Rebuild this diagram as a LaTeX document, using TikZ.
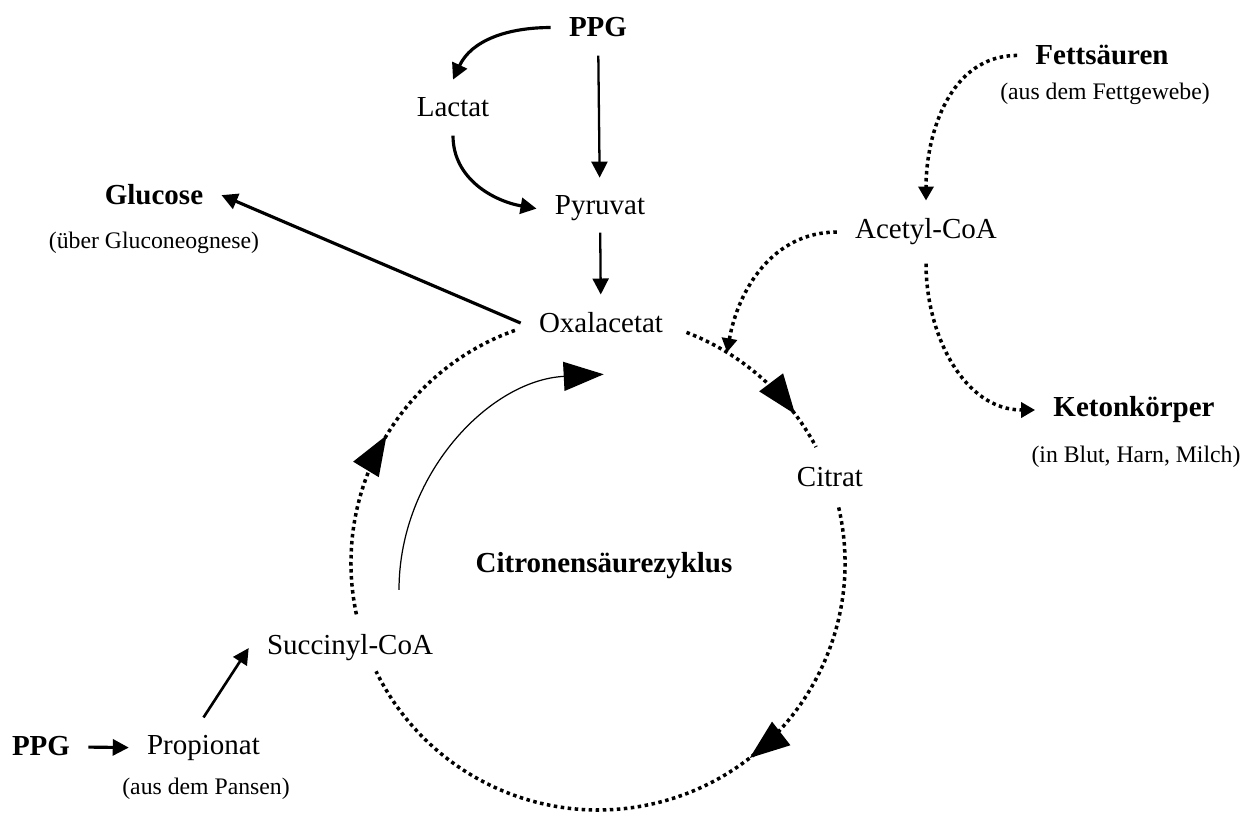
\documentclass[tikz,border=0pt]{standalone}
\usepackage{fontspec}
\setmainfont{Liberation Serif}
\usetikzlibrary{arrows.meta,decorations.markings}
\tikzset{
  metab/.style={anchor=base, inner sep=0.36cm, font=\fontsize{16.5}{20}\selectfont},
  source/.style={metab, font=\fontsize{16.5}{20}\selectfont\bfseries},
  note/.style={anchor=base, inner sep=2pt, font=\fontsize{13.5}{16}\selectfont},
  arrow/.style={-{Triangle[length=0.32cm, width=0.32cm]}, line width=1.3pt},
  bentarrow/.style={arrow, line width=1.8pt},
  dotarrow/.style={-{Triangle[length=0.28cm, width=0.3cm]}, line width=2pt, dash pattern=on 2pt off 2pt},
  thinarrow/.style={-{Triangle[length=0.8cm, width=0.58cm]}, line width=0.7pt},
  cyclearc/.style={line width=2pt, dash pattern=on 2pt off 2pt, postaction={decorate},
    decoration={markings, mark=at position #1 with {\arrow{Triangle[length=0.8cm, width=0.58cm]}}}}
}
\begin{document}
\begin{tikzpicture}
  \useasboundingbox (0,0) rectangle (25.08,16.32);

  \node[source] (ppgtop) at (11.96,15.58) {PPG};
  \node[metab] (lactat) at (9.06,13.98) {Lactat};
  \node[metab] (pyruvat) at (12.00,12.02) {Pyruvat};
  \node[metab] (oxal) at (12.02,9.66) {Oxalacetat};
  \node[source] (glucose) at (3.08,12.22) {Glucose};
  \node[note] (glucosenote) at (3.08,11.34) {(über Gluconeognese)};
  \node[source] (fett) at (22.04,15.02) {Fettsäuren};
  \node[note] (fettnote) at (22.10,14.32) {(aus dem Fettgewebe)};
  \node[metab] (acetyl) at (18.52,11.54) {Acetyl-CoA};
  \node[source] (keton) at (22.68,7.98) {Ketonkörper};
  \node[note] (ketonnote) at (22.72,7.06) {(in Blut, Harn, Milch)};
  \node[metab] (citrat) at (16.60,6.58) {Citrat};
  \node[source] (zyklus) at (12.08,4.86) {Citronensäurezyklus};
  \node[metab] (succ) at (7.00,3.22) {Succinyl-CoA};
  \node[source] (ppgbot) at (0.82,1.20) {PPG};
  \node[metab] (prop) at (4.07,1.22) {Propionat};
  \node[note] (propnote) at (4.12,0.42) {(aus dem Pansen)};

  % citric acid cycle
  \coordinate (cyc) at (11.96,5.06);
  \coordinate (acin) at ([shift={(58.5:4.94)}]cyc);
  \coordinate (shortcut) at (7.98,4.52);
  \draw[cyclearc=0.78] ([shift={(69:4.94)}]cyc) arc[start angle=69, end angle=28, radius=4.94];
  \draw[cyclearc=0.39] ([shift={(13:4.94)}]cyc) arc[start angle=13, end angle=-154, radius=4.94];
  \draw[cyclearc=0.52] ([shift={(192:4.94)}]cyc) arc[start angle=192, end angle=109, radius=4.94];
  \draw[thinarrow] (shortcut) arc[start angle=180, end angle=93, radius=4.32];

  \draw[bentarrow] (ppgtop.west) to[out=180, in=65] (lactat.north);
  \draw[arrow] (ppgtop) -- (pyruvat);
  \draw[bentarrow] (lactat.south) to[out=-90, in=170] (pyruvat.west);
  \draw[arrow, shorten <=-0.14cm] (pyruvat) -- (oxal);
  \draw[bentarrow] (oxal.west) -- (glucose.east);

  \draw[dotarrow] (fett.west) to[out=180, in=90] (acetyl.north);
  \draw[dotarrow] (acetyl.south) to[out=-90, in=180] (keton.west);
  \draw[dotarrow] (acetyl.west) to[out=180, in=80] (acin);

  \draw[bentarrow] (ppgbot) -- (prop);
  \draw[arrow, line width=1.5pt] (prop.north) -- (succ.west);
\end{tikzpicture}
\end{document}
